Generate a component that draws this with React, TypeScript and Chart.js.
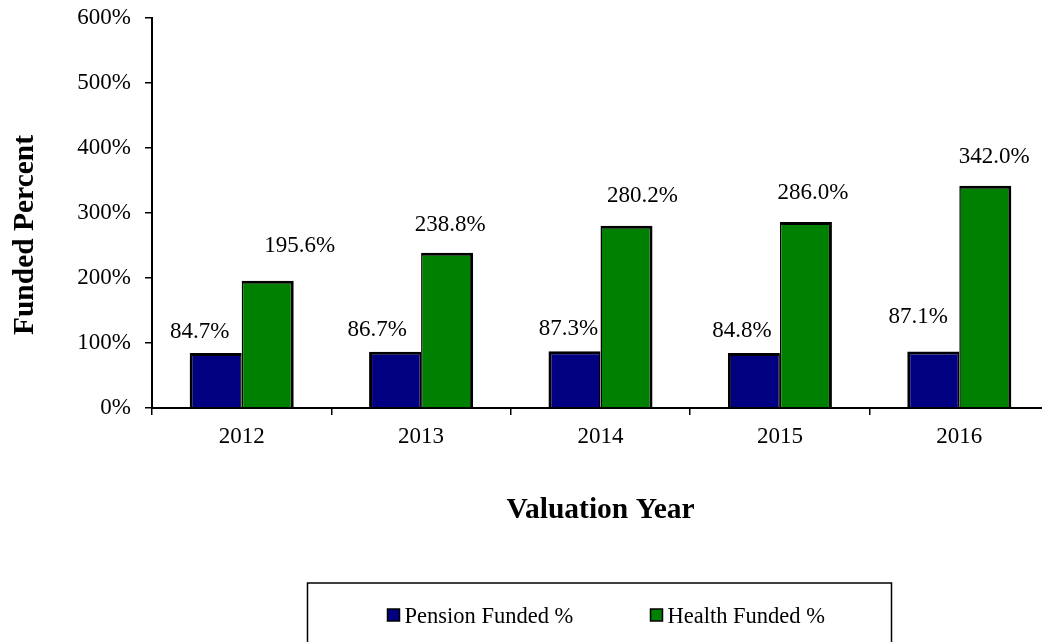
import React, { useEffect, useRef } from 'react';
import { Chart, registerables } from 'chart.js';

Chart.register(...registerables);

// ---- data ----
const years = ['2012', '2013', '2014', '2015', '2016'];
const pensionFunded = [84.7, 86.7, 87.3, 84.8, 87.1];
const healthFunded = [195.6, 238.8, 280.2, 286.0, 342.0];
const yTickValues = [0, 100, 200, 300, 400, 500, 600];
const seriesNames = ['Pension Funded %', 'Health Funded %'];
const xTitle = 'Valuation Year';
const yTitle = 'Funded Percent';

// label nudges relative to bar top-centre: [dx, gap above bar top]
const pensionLabelNudge = [[-16, 15], [-18, 16], [-6, 16], [-12, 16], [-15, 28]];
const healthLabelNudge = [[32, 29], [3, 22], [16, 24], [7, 23], [9, 23]];

const FONT = '"Liberation Serif", "Times New Roman", Times, serif';
const PENSION_COLOR = '#000080';
const HEALTH_COLOR = '#008000';

const CANVAS_W = 1060;
const CANVAS_H = 660;

const decorPlugin = {
  id: 'decor',
  afterDatasetsDraw(chart: any) {
    const ctx = chart.ctx as CanvasRenderingContext2D;
    const ca = chart.chartArea;
    ctx.save();
    ctx.fillStyle = '#000';

    // data labels
    ctx.font = `23px ${FONT}`;
    ctx.textAlign = 'center';
    ctx.textBaseline = 'alphabetic';
    chart.data.datasets.forEach((ds: any, di: number) => {
      const meta = chart.getDatasetMeta(di);
      const nudges = di === 0 ? pensionLabelNudge : healthLabelNudge;
      meta.data.forEach((el: any, i: number) => {
        const v = ds.data[i] as number;
        const [dx, gap] = nudges[i];
        ctx.fillText(v.toFixed(1) + '%', el.x + dx, el.y - gap);
      });
    });

    // axis titles
    ctx.font = `bold 29.5px ${FONT}`;
    ctx.textAlign = 'center';
    ctx.textBaseline = 'alphabetic';
    const cx = (ca.left + ca.right) / 2;
    ctx.fillText(xTitle, cx, ca.bottom + 110);
    ctx.save();
    ctx.translate(ca.left - 119, ca.top + 217);
    ctx.rotate(-Math.PI / 2);
    ctx.fillText(yTitle, 0, 0);
    ctx.restore();

    // legend box
    ctx.strokeStyle = '#000';
    ctx.lineWidth = 1.5;
    ctx.strokeRect(cx - 293, ca.bottom + 175, 584, 120);
    const itemX = [cx - 213, cx + 50];
    const sqTop = ca.bottom + 201;
    ctx.font = `22.5px ${FONT}`;
    ctx.textAlign = 'left';
    ctx.textBaseline = 'middle';
    chart.data.datasets.forEach((ds: any, di: number) => {
      const x = itemX[di];
      ctx.fillStyle = ds.backgroundColor;
      ctx.fillRect(x, sqTop, 12, 12);
      ctx.lineWidth = 1.5;
      ctx.strokeRect(x, sqTop, 12, 12);
      ctx.fillStyle = '#000';
      ctx.fillText(ds.label, x + 17, sqTop + 8);
    });
    ctx.restore();
  },
};

export default function App() {
  const ref = useRef<HTMLCanvasElement | null>(null);

  useEffect(() => {
    if (!ref.current) return;
    const chart = new Chart(ref.current, {
      type: 'bar',
      data: {
        labels: years,
        datasets: [
          {
            label: seriesNames[0],
            data: pensionFunded,
            backgroundColor: PENSION_COLOR,
            borderColor: '#000',
            borderWidth: { top: 3, left: 3, right: 1.5, bottom: 0 },
            borderSkipped: false,
          },
          {
            label: seriesNames[1],
            data: healthFunded,
            backgroundColor: HEALTH_COLOR,
            borderColor: '#000',
            borderWidth: { top: 3, left: 1.5, right: 3, bottom: 0 },
            borderSkipped: false,
          },
        ],
      },
      options: {
        responsive: false,
        animation: false,
        devicePixelRatio: 1,
        layout: { padding: { left: 0, right: 11, top: 18, bottom: 0 } },
        datasets: {
          bar: { categoryPercentage: 0.58, barPercentage: 1.0 },
        },
        plugins: {
          legend: { display: false },
          tooltip: { enabled: false },
          title: { display: false },
        },
        scales: {
          x: {
            offset: true,
            grid: {
              display: true,
              offset: true,
              drawOnChartArea: false,
              drawTicks: true,
              tickLength: 7,
              color: '#000',
              lineWidth: 1.5,
            },
            border: { display: true, color: '#000', width: 2 },
            ticks: {
              color: '#000',
              font: { family: FONT, size: 23 },
              padding: 8,
              maxRotation: 0,
            },
            afterFit: (s: any) => {
              s.height = CANVAS_H - 408;
              s.paddingLeft = 0;
              s.paddingRight = 0;
            },
          },
          y: {
            min: 0,
            max: 600,
            afterBuildTicks: (s: any) => {
              s.ticks = yTickValues.map((v) => ({ value: v }));
            },
            grid: {
              display: true,
              drawOnChartArea: false,
              drawTicks: true,
              tickLength: 7,
              color: '#000',
              lineWidth: 1.5,
            },
            border: { display: true, color: '#000', width: 2 },
            ticks: {
              color: '#000',
              font: { family: FONT, size: 23 },
              padding: 14,
              callback: (v: any) => `${v}%`,
            },
            afterFit: (s: any) => {
              s.width = 152;
              s.paddingTop = 0;
              s.paddingBottom = 0;
            },
          },
        },
      },
      plugins: [decorPlugin],
    });
    return () => chart.destroy();
  }, []);

  return (
    <div
      style={{
        position: 'fixed',
        left: 0,
        top: 0,
        width: 1042,
        height: 642,
        overflow: 'hidden',
        background: '#fff',
      }}
    >
      <canvas
        ref={ref}
        width={CANVAS_W}
        height={CANVAS_H}
        style={{ position: 'absolute', left: 0, top: 0, width: CANVAS_W, height: CANVAS_H }}
      />
    </div>
  );
}
